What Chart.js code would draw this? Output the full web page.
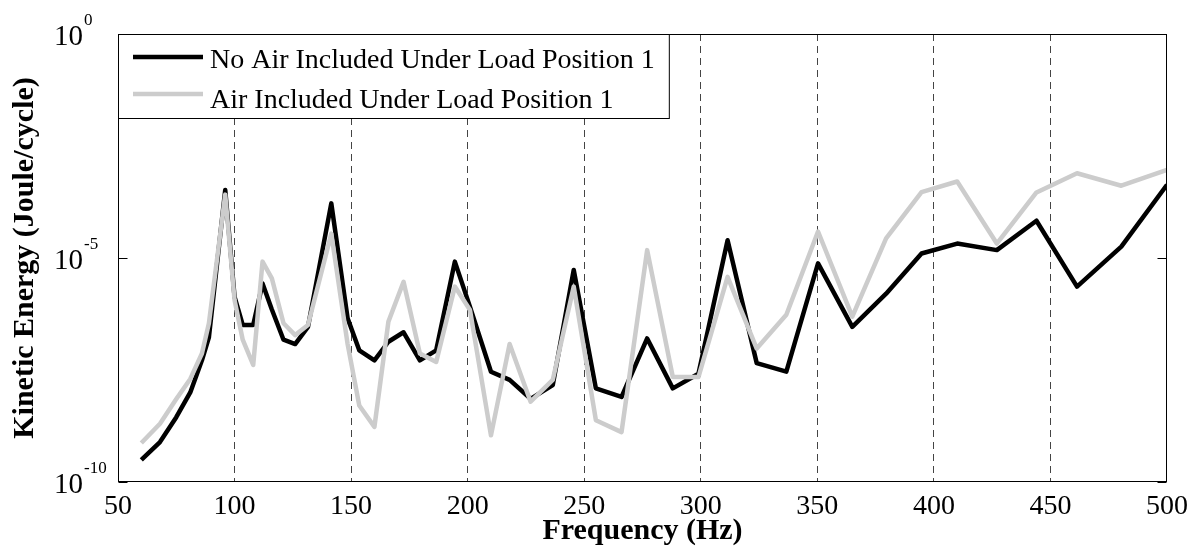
<!DOCTYPE html>
<html>
<head>
<meta charset="utf-8">
<title>Kinetic Energy vs Frequency</title>
<script src="https://cdn.jsdelivr.net/npm/chart.js@4.4.1/dist/chart.umd.min.js"></script>
<style>
  html, body { margin: 0; padding: 0; background: #fff; }
  #wrap { width: 1202px; height: 556px; }
</style>
</head>
<body>
<div id="wrap"><canvas id="energyChart" width="1202" height="556"></canvas></div>
<script>
// Frequencies (Hz)
const frequencies = [60, 68, 75, 81, 86, 89, 96, 100, 103.5, 108,
    112, 116, 121, 126, 131.5, 141.5, 148.5, 153.5, 160, 166,
    172.5, 179.5, 186.5, 194.5, 201, 210, 218, 227, 236.5, 245.5,
    255, 266, 277, 288, 299, 311.5, 324, 336.7, 350.3, 365,
    379.5, 394.7, 410, 427, 444, 461.4, 480.4, 500];

// Kinetic energy (Joule/cycle), no air included
const noAirEnergy = [3.1e-10, 7.8e-10, 2.8e-9, 1.0e-8, 5.2e-8, 1.7e-7, 3.3e-4, 1.35e-6, 3.2e-7, 3.2e-7,
    2.7e-6, 7.1e-7, 1.5e-7, 1.2e-7, 2.9e-7, 1.66e-4, 4.5e-7, 8.7e-8, 5.2e-8, 1.35e-7,
    2.2e-7, 5.2e-8, 8.7e-8, 8.3e-6, 8.1e-7, 2.9e-8, 1.9e-8, 7.2e-9, 1.45e-8, 5.4e-6,
    1.23e-8, 7.9e-9, 1.6e-7, 1.23e-8, 2.6e-8, 2.5e-5, 4.5e-8, 2.9e-8, 7.6e-6, 2.9e-7,
    1.6e-6, 1.26e-5, 2.1e-5, 1.5e-5, 6.8e-5, 2.3e-6, 1.8e-5, 4.3e-4];

// Kinetic energy (Joule/cycle), air included
const airEnergy = [7.4e-10, 2.0e-9, 7.1e-9, 2.0e-8, 7.4e-8, 3.5e-7, 2.6e-4, 1.15e-6, 1.5e-7, 4.1e-8,
    8.3e-6, 3.5e-6, 3.5e-7, 1.9e-7, 3.2e-7, 3.5e-5, 1.2e-7, 5.1e-9, 1.7e-9, 3.8e-7,
    2.95e-6, 7.4e-8, 4.8e-8, 2.3e-6, 6.9e-7, 1.1e-9, 1.2e-7, 6.2e-9, 1.9e-8, 2.3e-6,
    2.4e-9, 1.3e-9, 1.5e-5, 2.2e-8, 2.2e-8, 3.8e-6, 9.5e-8, 5.4e-7, 3.9e-5, 4.9e-7,
    2.75e-5, 2.95e-4, 5.1e-4, 2.1e-5, 2.9e-4, 7.8e-4, 4.1e-4, 9.3e-4];

const seriesLabels = ['No Air Included Under Load Position 1', 'Air Included Under Load Position 1'];

// Y ticks: 10^0, 10^-5, 10^-10
const yTickValues = [1, 1e-5, 1e-10];
const yTickExponents = ['0', '-5', '-10'];

const serif = "'Liberation Serif', 'Times New Roman', serif";

function toPoints(xs, ys) {
    return xs.map((x, i) => ({ x: x, y: ys[i] }));
}

// Cadre, graduations Y en puissances de 10 et légende
const framePlugin = {
    id: 'frame',
    afterDraw(chart) {
        const { ctx, chartArea: a, scales: { y } } = chart;
        ctx.save();
        ctx.strokeStyle = '#000';
        ctx.lineWidth = 1;
        ctx.setLineDash([]);
        const L = Math.round(a.left) + 0.5, T = Math.round(a.top) + 0.5;
        const R = Math.round(a.right) - 0.5, B = Math.round(a.bottom) - 0.5;
        ctx.strokeRect(L, T, R - L, B - T);

        yTickValues.forEach((v, i) => {
            const py = Math.round(y.getPixelForValue(v)) + 0.5;
            ctx.strokeStyle = '#000';
            ctx.lineWidth = 1;
            ctx.beginPath();
            ctx.moveTo(L, py); ctx.lineTo(L + 9, py);
            ctx.moveTo(R, py); ctx.lineTo(R - 9, py);
            ctx.stroke();

            ctx.fillStyle = '#000';
            ctx.textBaseline = 'alphabetic';
            ctx.font = '29px ' + serif;
            ctx.textAlign = 'right';
            ctx.fillText('10', a.left - 35, py + 10);
            ctx.font = '17px ' + serif;
            ctx.textAlign = 'left';
            ctx.fillText(yTickExponents[i], a.left - 34, py - 10);
        });

        // légende
        ctx.font = '28px ' + serif;
        const labels = chart.data.datasets.map(d => d.label);
        const textW = Math.max(...labels.map(t => ctx.measureText(t).width));
        const boxW = 92 + textW + 14;
        ctx.fillStyle = '#fff';
        ctx.fillRect(L, T, boxW, 84);
        ctx.strokeStyle = '#000';
        ctx.lineWidth = 1;
        ctx.strokeRect(L, T, boxW, 84);
        chart.data.datasets.forEach((d, i) => {
            const ly = a.top + 23 + i * 37;
            ctx.strokeStyle = d.borderColor;
            ctx.lineWidth = d.borderWidth;
            ctx.beginPath();
            ctx.moveTo(a.left + 15, ly);
            ctx.lineTo(a.left + 85, ly);
            ctx.stroke();
            ctx.fillStyle = '#000';
            ctx.textAlign = 'left';
            ctx.textBaseline = 'alphabetic';
            ctx.fillText(d.label, a.left + 92, a.top + 34 + i * 40);
        });
        ctx.restore();
    }
};

const ctx = document.getElementById('energyChart').getContext('2d');

const energyChart = new Chart(ctx, {
    type: 'line',
    data: {
        datasets: [{
            label: seriesLabels[0],
            data: toPoints(frequencies, noAirEnergy),
            borderColor: '#000000',
            borderWidth: 4.5,
            order: 1
        }, {
            label: seriesLabels[1],
            data: toPoints(frequencies, airEnergy),
            borderColor: '#cccccc',
            borderWidth: 4.5,
            order: 0
        }]
    },
    options: {
        responsive: false,
        devicePixelRatio: 1,
        animation: false,
        events: [],
        layout: {
            padding: { top: 34, right: 35, left: 0, bottom: 0 }
        },
        elements: {
            line: { tension: 0, fill: false, borderJoinStyle: 'round', borderCapStyle: 'butt' },
            point: { radius: 0 }
        },
        scales: {
            x: {
                type: 'linear',
                min: 50,
                max: 500,
                ticks: {
                    stepSize: 50,
                    color: '#000',
                    padding: 8,
                    maxRotation: 0,
                    autoSkip: false,
                    font: { family: serif, size: 28 }
                },
                grid: {
                    drawTicks: false,
                    lineWidth: 1,
                    color: function(c) {
                        if (c.tick && (c.tick.value === 50 || c.tick.value === 500)) return 'rgba(0,0,0,0)';
                        return '#444';
                    }
                },
                border: { display: false, dash: [7, 5] },
                title: {
                    display: true,
                    text: 'Frequency (Hz)',
                    color: '#000',
                    font: { family: serif, size: 30, weight: 'bold' },
                    padding: { top: 0, bottom: 7 }
                },
                afterFit: function(scale) { scale.height = 74; }
            },
            y: {
                type: 'logarithmic',
                min: 1e-10,
                max: 1,
                afterBuildTicks: function(scale) {
                    scale.ticks = yTickValues.map(v => ({ value: v }));
                },
                ticks: { display: false },
                grid: { display: false },
                border: { display: false },
                title: {
                    display: true,
                    text: 'Kinetic Energy (Joule/cycle)',
                    color: '#000',
                    font: { family: serif, size: 30, weight: 'bold' },
                    padding: { top: 7, bottom: 0 }
                },
                afterFit: function(scale) { scale.width = 118; }
            }
        },
        plugins: {
            legend: { display: false },
            tooltip: { enabled: false }
        }
    },
    plugins: [framePlugin]
});
</script>
</body>
</html>
